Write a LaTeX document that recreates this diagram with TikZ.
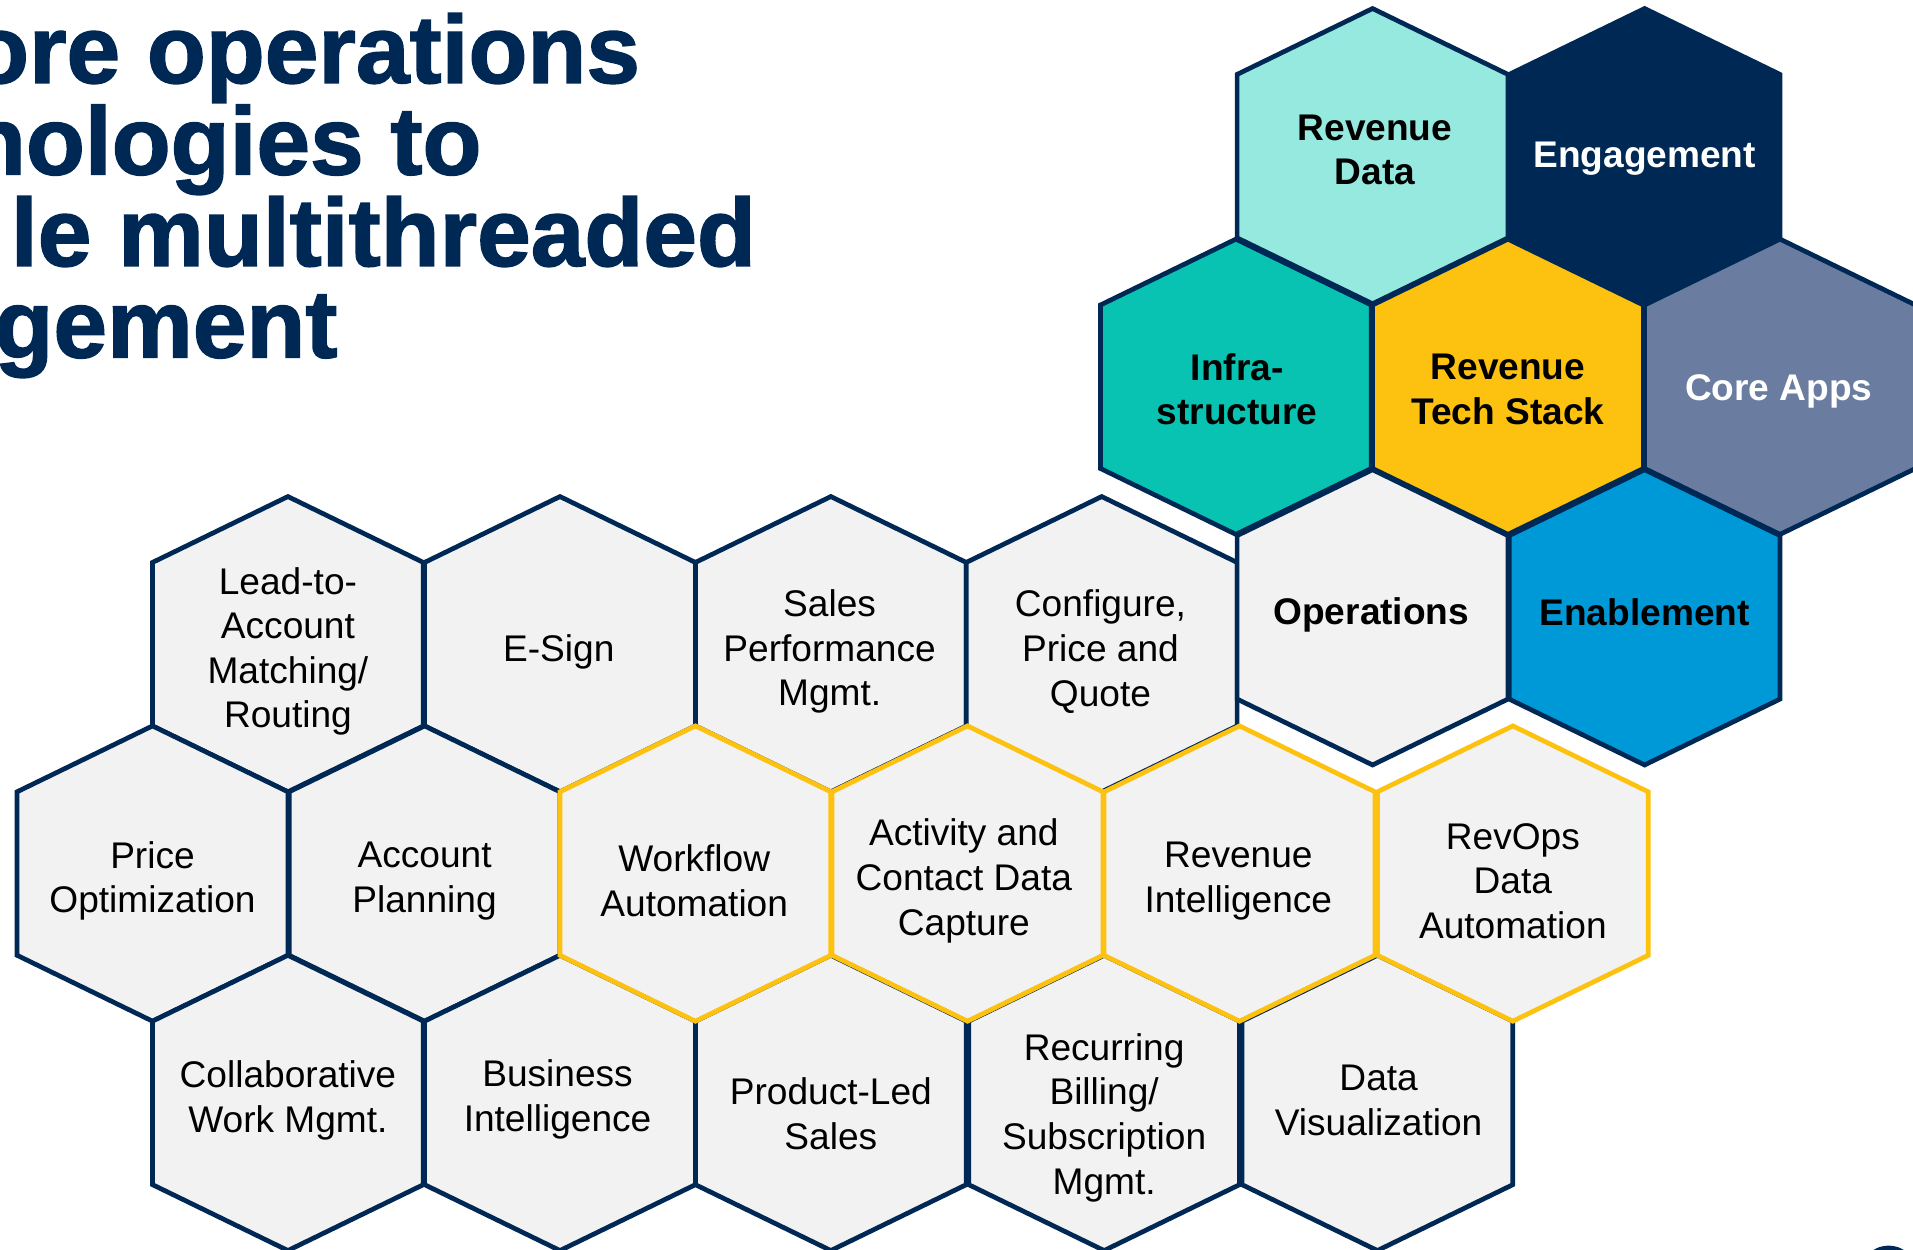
\documentclass[tikz,border=0pt]{standalone}
\usepackage{fontspec}
\setmainfont{Liberation Sans}
\newfontfamily\titlefont[FakeBold=1.5]{Liberation Sans Bold}
\usepackage{tikz}
\usetikzlibrary{shapes}

\definecolor{navy}{RGB}{0,40,85}
\definecolor{aqua}{RGB}{150,233,222}
\definecolor{teal}{RGB}{8,195,178}
\definecolor{gold}{RGB}{253,193,16}
\definecolor{slate}{RGB}{106,125,160}
\definecolor{skyblue}{RGB}{0,153,216}
\definecolor{cellgrey}{RGB}{242,242,242}

% one cell of the honeycomb, drawn round the current point
\newcommand{\hexcell}{+(0,-121) -- +(111,-67) -- +(111,67) -- +(0,121) -- +(-111,67) -- +(-111,-67) -- cycle}

\tikzset{
  hexgrey/.style={draw=navy, fill=cellgrey, line width=2.2pt},
  hexgold/.style={draw=gold, fill=cellgrey, line width=2.2pt},
  hextop/.style={draw=navy, line width=2.2pt},
  lbl/.style={align=center, inner sep=0pt, font=\fontsize{17.3}{20.8}\selectfont},
  lblb/.style={lbl, font=\fontsize{17.3}{20.8}\selectfont\bfseries},
  ttl/.style={anchor=base east, inner sep=0pt, text=navy, font=\titlefont\fontsize{45}{45}\selectfont}
}

\begin{document}
\begin{tikzpicture}[x=0.02cm, y=-0.02cm]
\useasboundingbox (0,0) rectangle (1568,1024);
\clip (0,0) rectangle (1568,1024);

% title, cut off at the left edge
\node [ttl] (t1) at (525,68) {ore operations};
\node [ttl] (t2) at (395,143) {nologies to};
\node [ttl] (t3) at (620,218) {le multithreaded};
\node [ttl] (t4) at (277,293) {gement};

% lower honeycomb
\draw [hexgrey] (236,528) \hexcell;
\draw [hexgrey] (459,528) \hexcell;
\draw [hexgrey] (681,528) \hexcell;
\draw [hexgrey] (903,528) \hexcell;
\draw [hexgrey] (125,716) \hexcell;
\draw [hexgrey] (348,716) \hexcell;
\draw [hexgrey] (236,904) \hexcell;
\draw [hexgrey] (459,904) \hexcell;
\draw [hexgrey] (681,904) \hexcell;
\draw [hexgrey] (905,904) \hexcell;
\draw [hexgrey] (1129,904) \hexcell;
\draw [hexgold] (570,716) \hexcell;
\draw [hexgold] (793,716) \hexcell;
\draw [hexgold] (1016,716) \hexcell;
\draw [hexgold] (1240,716) \hexcell;

\node [lbl] (leadto) at (236,534) {Lead-to-\\Account\\Matching/\\Routing};
\node [lbl] (esign) at (458,534) {E-Sign};
\node [lbl] (spm) at (680,534) {Sales\\Performance\\Mgmt.};
\node [lbl] (cpq) at (902,534) {Configure,\\Price and\\Quote};
\node [lbl] (priceopt) at (125,722) {Price\\Optimization};
\node [lbl] (acctplan) at (348,722) {Account\\Planning};
\node [lbl] (workflow) at (569,722) {Workflow\\Automation};
\node [lbl] (activity) at (790,722) {Activity and\\Contact Data\\Capture};
\node [lbl] (revint) at (1015,722) {Revenue\\Intelligence};
\node [lbl] (revops) at (1240,722) {RevOps\\Data\\Automation};
\node [lbl] (collab) at (236,902) {Collaborative\\Work Mgmt.};
\node [lbl] (bi) at (457,901) {Business\\Intelligence};
\node [lbl] (plg) at (681,913) {Product-Led\\Sales};
\node [lbl] (billing) at (905,916) {Recurring\\Billing/\\Subscription\\Mgmt.};
\node [lbl] (dataviz) at (1130,902) {Data\\Visualization};

% upper honeycomb
\draw [hextop, fill=aqua] (1125,128) \hexcell;
\draw [hextop, fill=navy] (1348,128) \hexcell;
\draw [hextop, fill=teal] (1013,317) \hexcell;
\draw [hextop, fill=gold] (1236,317) \hexcell;
\draw [hextop, fill=slate] (1459,317) \hexcell;
\draw [hextop, fill=cellgrey] (1125,506) \hexcell;
\draw [hextop, fill=skyblue] (1348,506) \hexcell;

\node [lblb] (revdata) at (1127,123) {Revenue\\Data};
\node [lblb, text=white] (engage) at (1348,130) {Engagement};
\node [lblb] (infra) at (1014,319) {Infra-\\structure};
\node [lblb] (techstack) at (1236,319) {Revenue\\Tech Stack};
\node [lblb, text=white] (coreapps) at (1458,321) {Core Apps};
\node [lblb] (ops) at (1124,504) {Operations};
\node [lblb] (enable) at (1348,502) {Enablement};

\fill [navy] (1548,1045) circle [radius=24];
\end{tikzpicture}
\end{document}
